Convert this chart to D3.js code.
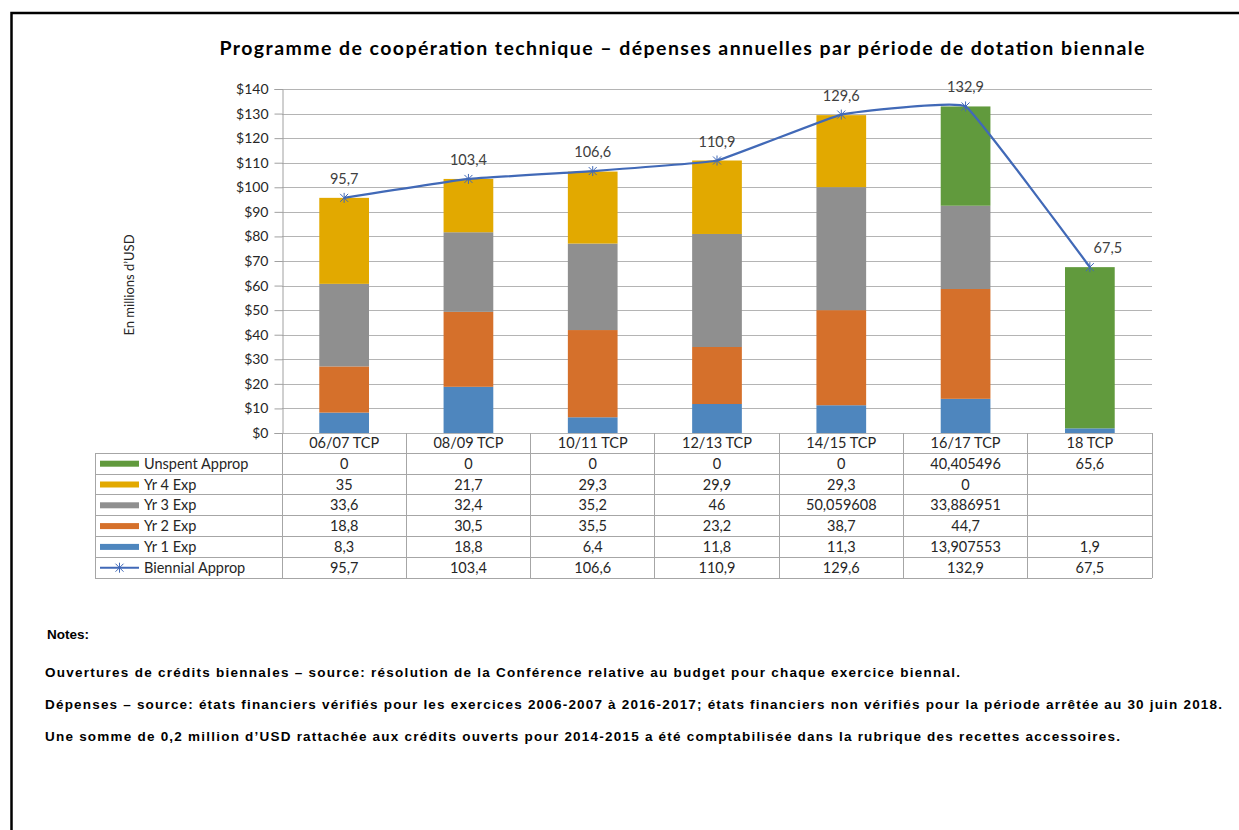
<!DOCTYPE html>
<html>
<head>
<meta charset="utf-8">
<script src="https://cdn.jsdelivr.net/npm/d3@7.9.0/dist/d3.min.js"></script>
<style>
  body { margin: 0; background: #fff; }
  svg { display: block; }
  text { font-family: Lato, "Open Sans", sans-serif; fill: #262626; }
  .notes text { font-family: "Liberation Sans", Arial, sans-serif; font-weight: bold; fill: #000; }
</style>
</head>
<body>
<svg id="chart" width="1239" height="830"></svg>
<script>
// chart data
const categories = ["06/07 TCP", "08/09 TCP", "10/11 TCP", "12/13 TCP", "14/15 TCP", "16/17 TCP", "18 TCP"];
const yr1Exp = [8.3, 18.8, 6.4, 11.8, 11.3, 13.907553, 1.9];
const yr2Exp = [18.8, 30.5, 35.5, 23.2, 38.7, 44.7, null];
const yr3Exp = [33.6, 32.4, 35.2, 46, 50.059608, 33.886951, null];
const yr4Exp = [35, 21.7, 29.3, 29.9, 29.3, 0, null];
const unspentApprop = [0, 0, 0, 0, 0, 40.405496, 65.6];
const biennialApprop = [95.7, 103.4, 106.6, 110.9, 129.6, 132.9, 67.5];
const yTicks = [0, 10, 20, 30, 40, 50, 60, 70, 80, 90, 100, 110, 120, 130, 140];

const title = "Programme de coopération technique \u2013 dépenses annuelles par période de dotation biennale";
const yLabel = "En millions d\u2019USD";
const notes = [
  "Ouvertures de crédits biennales  \u2013 source: résolution de la Conférence  relative au budget pour chaque exercice  biennal.",
  "Dépenses  \u2013 source: états financiers  vérifiés  pour les exercices 2006-2007  à 2016-2017; états financiers  non vérifiés  pour la période arrêtée au 30 juin  2018.",
  "Une somme  de 0,2 million  d\u2019USD rattachée aux crédits ouverts pour 2014-2015 a été comptabilisée  dans la rubrique des recettes accessoires."
];

// stacked series, bottom to top
const series = [
  { name: "Yr 1 Exp", values: yr1Exp, color: "#4e86be" },
  { name: "Yr 2 Exp", values: yr2Exp, color: "#d5702b" },
  { name: "Yr 3 Exp", values: yr3Exp, color: "#8f8f8f" },
  { name: "Yr 4 Exp", values: yr4Exp, color: "#e2a900" },
  { name: "Unspent Approp", values: unspentApprop, color: "#619a3d" }
];
const lineColor = "#4169b7";

const svg = d3.select("#chart");

// frame
svg.append("path")
  .attr("d", "M11.5,830 L11.5,13 L1239,13")
  .attr("fill", "none")
  .attr("stroke", "#000")
  .attr("stroke-width", 2.5);

const plotLeft = 282, plotRight = 1152, plotTop = 89, plotBottom = 433;

const x = d3.scaleBand()
  .domain(categories)
  .range([plotLeft, plotRight])
  .paddingInner(0.6)
  .paddingOuter(0.3);
const step = x.step();

const y = d3.scaleLinear().domain([0, 140]).range([plotBottom, plotTop]);

// title
svg.append("text")
  .attr("x", 682)
  .attr("y", 55)
  .attr("text-anchor", "middle")
  .attr("font-size", 19.5)
  .attr("font-weight", "bold")
  .attr("textLength", 925)
  .attr("lengthAdjust", "spacing")
  .style("fill", "#000")
  .text(title);

// y label
svg.append("text")
  .attr("transform", "translate(134,285) rotate(-90)")
  .attr("text-anchor", "middle")
  .attr("font-size", 13)
  .text(yLabel);

// gridlines
svg.append("g")
  .selectAll("line")
  .data(yTicks)
  .join("line")
  .attr("x1", plotLeft)
  .attr("x2", plotRight)
  .attr("y1", d => Math.round(y(d)) + 0.5)
  .attr("y2", d => Math.round(y(d)) + 0.5)
  .attr("stroke", "#b4b4b4");

// y axis
const yAxis = svg.append("g")
  .attr("transform", `translate(${plotLeft + 0.5},0)`)
  .call(d3.axisLeft(y).tickValues(yTicks).tickSize(8).tickPadding(6).tickFormat(d => "$" + d));
yAxis.select(".domain").attr("stroke", "#a0a0a0");
yAxis.selectAll(".tick line").attr("stroke", "#a0a0a0");
yAxis.selectAll(".tick text")
  .attr("font-size", 14)
  .attr("font-family", "Lato, sans-serif")
  .style("fill", "#262626");

// stacked bars
const stackData = categories.map((c, i) => {
  const row = { cat: c };
  series.forEach(s => { row[s.name] = s.values[i] || 0; });
  return row;
});
const stacked = d3.stack().keys(series.map(s => s.name))(stackData);

svg.append("g")
  .selectAll("g")
  .data(stacked)
  .join("g")
  .attr("fill", (d, i) => series[i].color)
  .selectAll("rect")
  .data(d => d)
  .join("rect")
  .attr("x", d => x(d.data.cat))
  .attr("width", x.bandwidth())
  .attr("y", d => y(d[1]))
  .attr("height", d => Math.max(0, y(d[0]) - y(d[1])));

// biennial line (mild Excel-like smoothing)
const cx = c => x(c) + x.bandwidth() / 2;
const line = d3.line()
  .x((d, i) => cx(categories[i]))
  .y(d => y(d))
  .curve(d3.curveCardinal.tension(0.75));

svg.append("path")
  .datum(biennialApprop)
  .attr("d", line)
  .attr("fill", "none")
  .attr("stroke", lineColor)
  .attr("stroke-width", 2.25);

const star = "M-4,-4L4,4M-4,4L4,-4M0,-5L0,5";
svg.append("g")
  .selectAll("path")
  .data(biennialApprop)
  .join("path")
  .attr("transform", (d, i) => `translate(${cx(categories[i])},${y(d)})`)
  .attr("d", star)
  .attr("stroke", lineColor)
  .attr("stroke-width", 1);

svg.append("g")
  .selectAll("text")
  .data(biennialApprop)
  .join("text")
  .attr("x", (d, i) => cx(categories[i]) + (i === categories.length - 1 ? 18 : 0))
  .attr("y", d => y(d) - 14)
  .attr("text-anchor", "middle")
  .attr("font-size", 14.5)
  .style("fill", "#404040")
  .text(d => String(d).replace(".", ","));

// data table
const tableLeft = 95;
const rowH = 20.8;
const headerTop = plotBottom;
const rowsTop = plotBottom + 20.3;
const tableRows = [
  series[4], series[3], series[2], series[1], series[0],
  { name: "Biennial Approp", values: biennialApprop, color: lineColor, line: true }
];
const tableBottom = rowsTop + rowH * tableRows.length;
const table = svg.append("g").attr("stroke", "#a6a6a6").attr("shape-rendering", "crispEdges");

// horizontal rules
table.selectAll("line.h")
  .data(d3.range(tableRows.length + 1))
  .join("line")
  .attr("class", "h")
  .attr("x1", tableLeft)
  .attr("x2", plotRight)
  .attr("y1", i => rowsTop + i * rowH)
  .attr("y2", i => rowsTop + i * rowH);

// vertical rules
table.selectAll("line.v")
  .data(d3.range(categories.length + 1))
  .join("line")
  .attr("class", "v")
  .attr("x1", i => plotLeft + i * step)
  .attr("x2", i => plotLeft + i * step)
  .attr("y1", headerTop)
  .attr("y2", tableBottom);

table.append("line")
  .attr("x1", tableLeft).attr("x2", tableLeft)
  .attr("y1", rowsTop).attr("y2", tableBottom);

// header labels
svg.append("g")
  .selectAll("text")
  .data(categories)
  .join("text")
  .attr("x", d => cx(d))
  .attr("y", headerTop + 10)
  .attr("dy", "0.35em")
  .attr("text-anchor", "middle")
  .attr("font-size", 14.5)
  .text(d => d);

const rowG = svg.append("g")
  .selectAll("g")
  .data(tableRows)
  .join("g")
  .attr("transform", (d, i) => `translate(0,${rowsTop + i * rowH + rowH / 2})`);

rowG.each(function (d) {
  const g = d3.select(this);
  if (d.line) {
    g.append("line")
      .attr("x1", 100).attr("x2", 139)
      .attr("stroke", d.color).attr("stroke-width", 2);
    g.append("path")
      .attr("transform", "translate(119.5,0)")
      .attr("d", star)
      .attr("stroke", d.color)
      .attr("fill", "none");
  } else {
    g.append("rect")
      .attr("x", 100).attr("y", -3)
      .attr("width", 39).attr("height", 6)
      .attr("fill", d.color);
  }
  g.append("text")
    .attr("x", 144)
    .attr("dy", "0.35em")
    .attr("font-size", 14.5)
    .text(d.name);
  g.selectAll("text.val")
    .data(d.values)
    .join("text")
    .attr("class", "val")
    .attr("x", (v, i) => cx(categories[i]))
    .attr("dy", "0.35em")
    .attr("text-anchor", "middle")
    .attr("font-size", 14.5)
    .text(v => v == null ? "" : String(v).replace(".", ","));
});

// notes
const notesG = svg.append("g").attr("class", "notes");
notesG.append("text")
  .attr("x", 47)
  .attr("y", 639)
  .attr("font-size", 13.5)
  .text("Notes:");

const noteWidths = [915, 1177, 1075];
notesG.selectAll("text.note")
  .data(notes)
  .join("text")
  .attr("class", "note")
  .attr("x", 45)
  .attr("y", (d, i) => 677 + i * 32)
  .attr("font-size", 13.5)
  .attr("textLength", (d, i) => noteWidths[i])
  .attr("lengthAdjust", "spacing")
  .text(d => d);
</script>
</body>
</html>
